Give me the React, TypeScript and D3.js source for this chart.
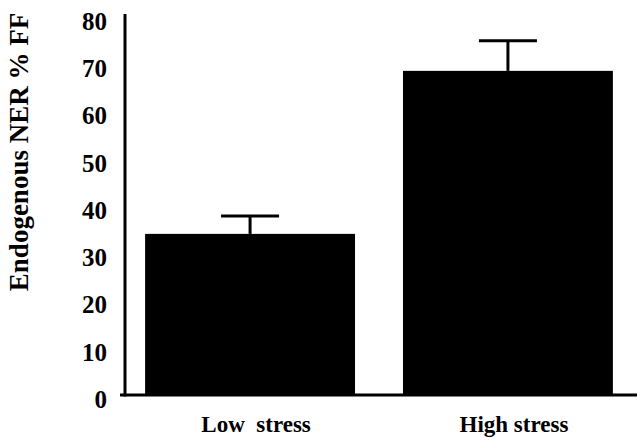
import React from 'react';
import * as d3 from 'd3';

const categories = ['Low  stress', 'High stress'];
const means = [34.1, 68.6];
const errorTops = [37.9, 75.0];
const yTicks = [0, 10, 20, 30, 40, 50, 60, 70, 80];

const W = 644;
const H = 446;
const font = '"Liberation Serif", "Times New Roman", serif';

const App = () => {
  const y = d3.scaleLinear().domain([0, 80]).range([395, 17]);
  const x = d3.scaleBand()
    .domain(categories)
    .range([125, 633])
    .paddingInner(0.186)
    .paddingOuter(0.078);

  const capW = 58;

  return (
    <svg width={W} height={H} style={{ position: 'absolute', left: 0, top: 0 }}>
      <rect width={W} height={H} fill="#fff" />

      {/* bars */}
      {categories.map((c, i) => (
        <rect key={c}
          x={x(c)}
          y={y(means[i])}
          width={x.bandwidth()}
          height={y(0) - y(means[i])}
          fill="#000" />
      ))}

      {/* error bars */}
      {categories.map((c, i) => {
        const cx = (x(c) as number) + x.bandwidth() / 2;
        return (
          <g key={c} stroke="#000" strokeWidth={3}>
            <line x1={cx} x2={cx} y1={y(means[i])} y2={y(errorTops[i])} />
            <line x1={cx - capW / 2} x2={cx + capW / 2} y1={y(errorTops[i])} y2={y(errorTops[i])} />
          </g>
        );
      })}

      {/* axes */}
      <line x1={125} x2={125} y1={y(80) - 3} y2={y(0) + 1.5} stroke="#000" strokeWidth={3} />
      <line x1={120} x2={637} y1={y(0)} y2={y(0)} stroke="#000" strokeWidth={3} />

      {/* y tick labels */}
      <g fontFamily={font} fontWeight="bold" fontSize={25} textAnchor="end">
        {yTicks.map(t => (
          <text key={t} x={107} y={y(t) + 4} dy="0.35em">{t}</text>
        ))}
      </g>

      {/* x labels */}
      <g fontFamily={font} fontWeight="bold" fontSize={23} textAnchor="middle">
        {categories.map(c => (
          <text key={c} x={(x(c) as number) + x.bandwidth() / 2 + 6} y={432} style={{ whiteSpace: 'pre' }}>{c}</text>
        ))}
      </g>

      {/* y title */}
      <text
        transform="translate(28,152) rotate(-90)"
        textAnchor="middle"
        fontFamily={font}
        fontWeight="bold"
        fontSize={27}>
        Endogenous NER % FF
      </text>
    </svg>
  );
};

export default App;
